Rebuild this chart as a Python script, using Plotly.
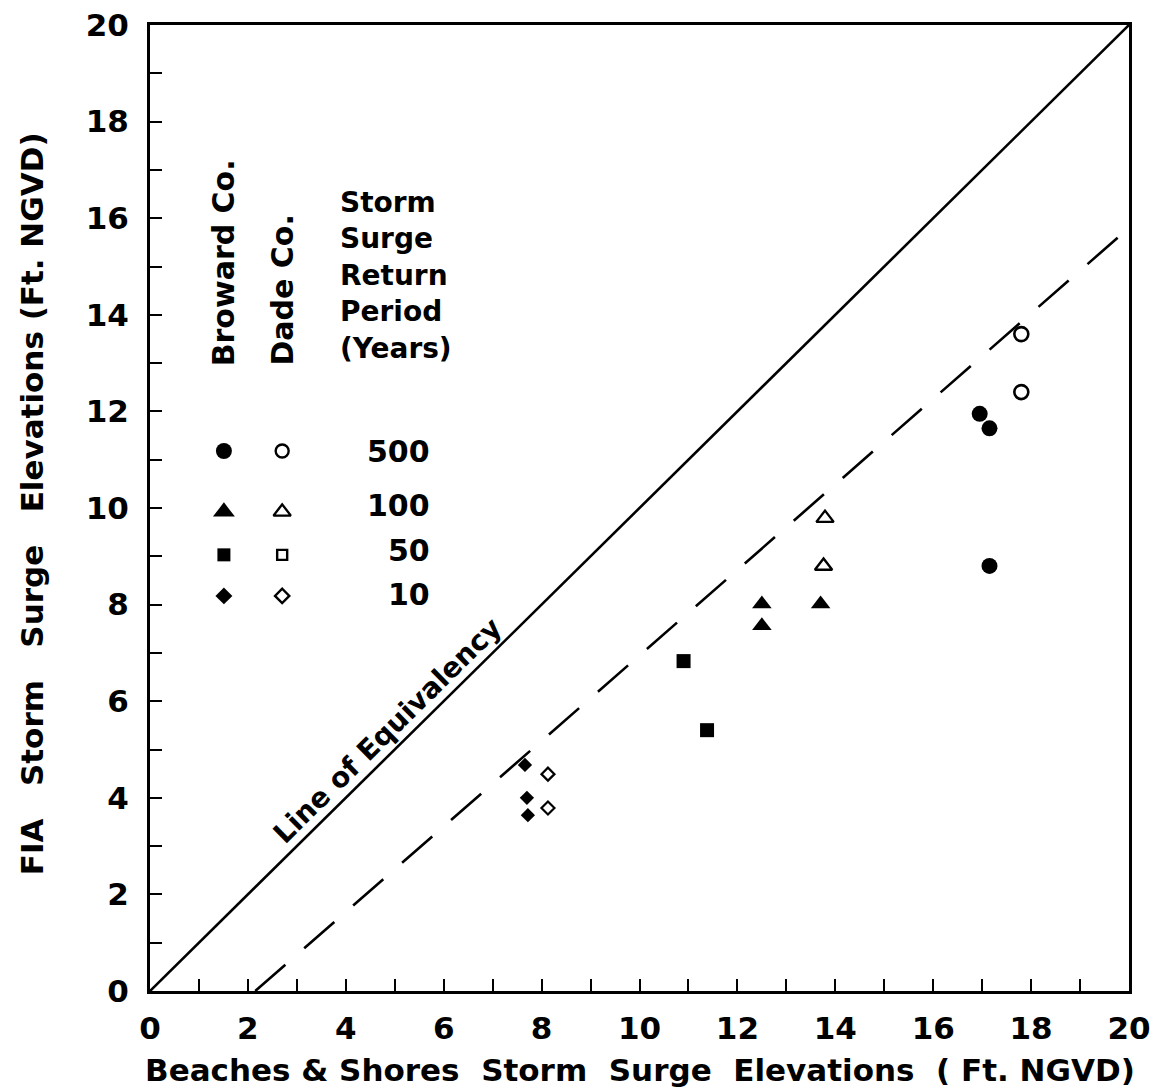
import plotly.graph_objects as go

# ---------------- data ----------------
equiv_x = [0, 20]
equiv_y = [0, 20]
trend_x = [2.15, 20]
trend_y = [0, 15.8]

broward_500_x = [16.95, 17.15, 17.15]
broward_500_y = [11.95, 11.65, 8.8]
dade_500_x = [17.8, 17.8]
dade_500_y = [13.6, 12.4]

broward_100_x = [12.5, 12.5, 13.7]
broward_100_y = [8.01, 7.56, 8.01]
dade_100_x = [13.79, 13.76]
dade_100_y = [9.79, 8.8]

broward_50_x = [10.9, 11.38]
broward_50_y = [6.83, 5.4]
dade_50_x = []
dade_50_y = []

broward_10_x = [7.66, 7.7, 7.72]
broward_10_y = [4.68, 4.0, 3.64]
dade_10_x = [8.13, 8.13]
dade_10_y = [4.49, 3.79]

return_periods = ["500", "100", "50", "10"]
x_ticks = [0, 2, 4, 6, 8, 10, 12, 14, 16, 18, 20]
y_ticks = [0, 2, 4, 6, 8, 10, 12, 14, 16, 18, 20]

# ---------------- layout constants ----------------
FONT = "DejaVu Sans"
BLACK = "black"
key_x_broward = 1.51
key_x_dade = 2.70
key_rows_y = [11.18, 9.92, 9.03, 8.18]
label_rows_y = [11.18, 10.06, 9.13, 8.2]
label_x = 5.76

fig = go.Figure()

# lines
fig.add_trace(go.Scatter(x=equiv_x, y=equiv_y, mode="lines",
                         line=dict(color=BLACK, width=2.6), showlegend=False))
fig.add_trace(go.Scatter(x=trend_x, y=trend_y, mode="lines",
                         line=dict(color=BLACK, width=2.6, dash="40px,25px"),
                         showlegend=False))

def pts(x, y, symbol, size, lw=0):
    fig.add_trace(go.Scatter(
        x=x, y=y, mode="markers", showlegend=False,
        marker=dict(symbol=symbol, size=size, color=BLACK,
                    line=dict(color=BLACK, width=lw)),
        cliponaxis=False))

# data markers
pts(broward_500_x, broward_500_y, "circle", 16)
pts(dade_500_x, dade_500_y, "circle-open", 14, 2.6)
pts(broward_100_x, broward_100_y, "triangle-up", 17)
pts(dade_100_x, dade_100_y, "triangle-up-open", 15, 2.4)
pts(broward_50_x, broward_50_y, "square", 14)
pts(dade_50_x, dade_50_y, "square-open", 10, 2.4)
pts(broward_10_x, broward_10_y, "diamond", 11)
pts(dade_10_x, dade_10_y, "diamond-open", 10, 2.2)

# legend keys
filled = [("circle", 16), ("triangle-up", 19), ("square", 13), ("diamond", 13)]
opened = [("circle-open", 13), ("triangle-up-open", 15), ("square-open", 10), ("diamond-open", 11)]
for (sym, sz), yy in zip(filled, key_rows_y):
    pts([key_x_broward], [yy], sym, sz)
for (sym, sz), yy in zip(opened, key_rows_y):
    pts([key_x_dade], [yy], sym, sz, 2.4)

ann = []
for lab, yy in zip(return_periods, label_rows_y):
    ann.append(dict(x=label_x, y=yy, xref="x", yref="y", text=lab, showarrow=False,
                    xanchor="right", yanchor="middle",
                    font=dict(family=FONT, size=30, color=BLACK, weight="bold")))

ann.append(dict(x=key_x_broward, y=12.9, xref="x", yref="y", text="Broward Co.",
                textangle=-90, showarrow=False, xanchor="center", yanchor="bottom",
                font=dict(family=FONT, size=30, color=BLACK, weight="bold")))
ann.append(dict(x=key_x_dade, y=12.9, xref="x", yref="y", text="Dade Co.",
                textangle=-90, showarrow=False, xanchor="center", yanchor="bottom",
                font=dict(family=FONT, size=30, color=BLACK, weight="bold")))
ann.append(dict(x=3.84, y=16.7, xref="x", yref="y",
                text="Storm<br>Surge<br>Return<br>Period<br>(Years)",
                showarrow=False, xanchor="left", yanchor="top", align="left",
                font=dict(family=FONT, size=28, color=BLACK, weight="bold")))
ann.append(dict(x=4.85, y=5.4, xref="x", yref="y", text="Line of Equivalency",
                textangle=-44.6, showarrow=False, xanchor="center", yanchor="middle",
                font=dict(family=FONT, size=28, color=BLACK, weight="bold")))

nb = "\u00a0"
ann.append(dict(x=0, y=0.504, xref="paper", yref="paper", xshift=-118,
                text=f"FIA{nb*3}Storm{nb*3}Surge{nb*3}Elevations{nb}(Ft.{nb}NGVD)",
                textangle=-90, showarrow=False, xanchor="center", yanchor="middle",
                font=dict(family=FONT, size=31, color=BLACK, weight="bold")))
ann.append(dict(x=0.5, y=0, xref="paper", yref="paper", yshift=-79,
                text=f"Beaches{nb}&{nb}Shores{nb*2}Storm{nb*2}Surge{nb*2}Elevations{nb*2}({nb}Ft.{nb}NGVD)",
                showarrow=False, xanchor="center", yanchor="middle",
                font=dict(family=FONT, size=31, color=BLACK, weight="bold")))

axis_common = dict(
    range=[0, 20], showgrid=False, zeroline=False,
    showline=True, mirror=True, linewidth=3, linecolor=BLACK,
    ticks="inside", ticklen=12, tickwidth=2, tickcolor=BLACK,
    minor=dict(dtick=1, ticks="inside", ticklen=12, tickwidth=2, tickcolor=BLACK),
    tickfont=dict(family=FONT, size=31, color=BLACK, weight="bold"),
    ticklabeloverflow="allow",
    automargin=False,
    fixedrange=True,
)
fig.update_xaxes(**axis_common, tickvals=x_ticks, ticktext=[str(v) for v in x_ticks],
                 ticklabelstandoff=8)
fig.update_yaxes(**axis_common, tickvals=y_ticks, ticktext=[str(v) for v in y_ticks],
                 ticklabelstandoff=12)

fig.update_layout(
    width=1158, height=1092, autosize=False,
    margin=dict(l=142, r=37, t=17, b=109, autoexpand=False),
    plot_bgcolor="white", paper_bgcolor="white",
    annotations=ann, showlegend=False,
)

fig.write_html("out.html")
